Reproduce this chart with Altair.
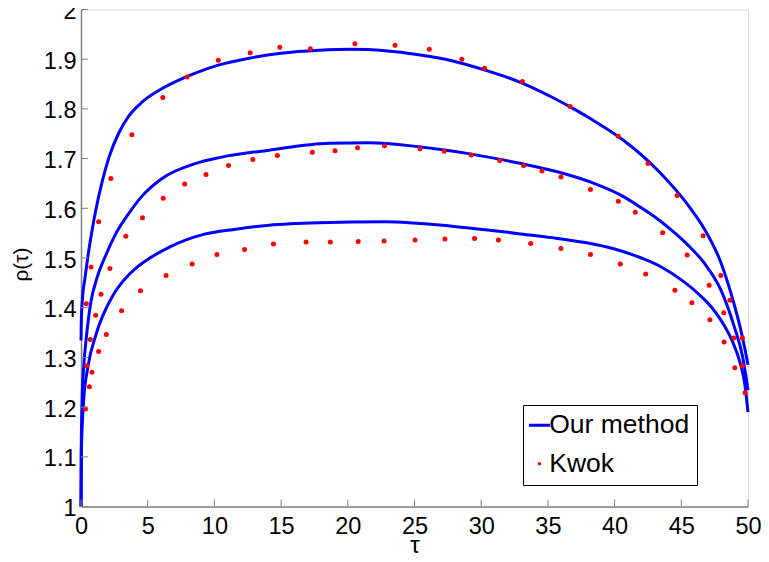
import altair as alt
import pandas as pd

# ---- data ----
top_curve_tau = [0, 0.02, 0.1, 0.3, 0.5, 0.78, 1.1, 1.6, 2.09, 2.84, 3.59, 4.59, 6.08, 7.58, 8.57,
                 10.29, 12.6, 15.0, 17.84, 20.3, 22.8, 25.3, 27.8, 30.3, 32.8, 35.28, 37.27, 38.27,
                 40.76, 43.25, 45.74, 46.74, 47.98, 48.98, 49.4, 49.73, 50]
top_curve_rho = [1.334, 1.37, 1.415, 1.46, 1.50, 1.548, 1.595, 1.655, 1.702, 1.752, 1.786, 1.814, 1.841,
                 1.861, 1.872, 1.888, 1.902, 1.912, 1.918, 1.92, 1.917, 1.909, 1.897, 1.878, 1.855,
                 1.824, 1.795, 1.779, 1.735, 1.676, 1.598, 1.558, 1.49, 1.405, 1.362, 1.322, 1.285]

mid_curve_tau = [0, 0.02, 0.08, 0.2, 0.4, 0.73, 1.2, 1.9, 2.59, 3.59, 4.59, 6.08, 8.57, 10.37, 14.1,
                 18.6, 21.6, 25.3, 29.05, 32.8, 35.78, 38.27, 40.76, 42.0, 43.25, 44.4, 45.5, 46.74,
                 47.98, 48.98, 49.6, 50]
mid_curve_rho = [1.0, 1.12, 1.21, 1.28, 1.34, 1.41, 1.46, 1.508, 1.548, 1.59, 1.625, 1.66, 1.69, 1.702,
                 1.717, 1.731, 1.732, 1.724, 1.71, 1.691, 1.673, 1.652, 1.622, 1.601, 1.578, 1.553,
                 1.526, 1.489, 1.435, 1.361, 1.301, 1.234]

bot_curve_tau = [0, 0.03, 0.2, 0.52, 1.15, 2.4, 3.2, 4.14, 4.89, 6.63, 9.12, 11.6, 14.1, 17.8, 22.8,
                 27.8, 30.3, 32.8, 35.3, 37.8, 40.0, 42.0, 43.5, 45.0, 46.2, 47.3, 48.2, 48.9, 49.4,
                 49.75, 50]
bot_curve_rho = [1.0, 1.113, 1.213, 1.281, 1.348, 1.425, 1.455, 1.48, 1.495, 1.522, 1.547, 1.558,
                 1.566, 1.571, 1.573, 1.564, 1.557, 1.549, 1.541, 1.531, 1.518, 1.5, 1.482, 1.456,
                 1.43, 1.4, 1.365, 1.328, 1.29, 1.248, 1.19]

kwok_top_tau = [0.40, 0.75, 1.32, 2.24, 3.81, 6.13, 7.95, 10.29, 12.68, 14.90, 17.19, 20.53, 23.54,
                26.11, 28.55, 30.25, 33.09, 36.67, 40.28, 42.50, 44.69, 46.64, 47.96, 48.65, 49.58]
kwok_top_rho = [1.408, 1.482, 1.573, 1.660, 1.748, 1.823, 1.864, 1.898, 1.913, 1.924, 1.921, 1.931,
                1.928, 1.920, 1.900, 1.882, 1.855, 1.805, 1.745, 1.690, 1.626, 1.545, 1.465, 1.415,
                1.339]

kwok_mid_tau = [0.43, 0.70, 1.10, 1.50, 2.17, 3.36, 4.61, 6.16, 7.77, 9.37, 11.06, 12.88, 14.72,
                17.34, 19.04, 20.73, 22.75, 25.41, 27.23, 29.25, 31.39, 33.18, 34.56, 35.98, 38.19,
                40.28, 41.55, 43.60, 45.44, 47.09, 48.18, 48.93, 49.58]
kwok_mid_rho = [1.283, 1.336, 1.385, 1.427, 1.479, 1.544, 1.581, 1.620, 1.649, 1.668, 1.686, 1.698,
                1.706, 1.713, 1.716, 1.722, 1.726, 1.720, 1.715, 1.707, 1.696, 1.686, 1.675, 1.663,
                1.638, 1.614, 1.592, 1.551, 1.506, 1.445, 1.390, 1.339, 1.283]

kwok_bot_tau = [0.33, 0.63, 0.82, 1.32, 1.90, 3.04, 4.46, 6.38, 8.33, 10.19, 12.26, 14.43, 16.87,
                18.69, 20.78, 22.72, 25.04, 27.28, 29.50, 31.29, 33.71, 35.98, 38.19, 40.43, 42.33,
                44.52, 45.79, 47.14, 48.21, 49.01, 49.78]
kwok_bot_rho = [1.196, 1.241, 1.270, 1.312, 1.346, 1.394, 1.434, 1.465, 1.488, 1.507, 1.517, 1.528,
                1.532, 1.532, 1.533, 1.534, 1.536, 1.538, 1.539, 1.536, 1.529, 1.519, 1.507, 1.488,
                1.468, 1.435, 1.410, 1.376, 1.331, 1.279, 1.229]

x_ticks = [0, 5, 10, 15, 20, 25, 30, 35, 40, 45, 50]
y_ticks = [1.0, 1.1, 1.2, 1.3, 1.4, 1.5, 1.6, 1.7, 1.8, 1.9, 2.0]
series_names = ["Our method", "Kwok"]
series_colors = ["#0000ff", "#ff0000"]

# ---- tables ----
lines = pd.concat([
    pd.DataFrame({"tau": top_curve_tau, "rho": top_curve_rho, "curve": "top"}),
    pd.DataFrame({"tau": mid_curve_tau, "rho": mid_curve_rho, "curve": "mid"}),
    pd.DataFrame({"tau": bot_curve_tau, "rho": bot_curve_rho, "curve": "bot"}),
])
lines["src"] = series_names[0]

pts = pd.concat([
    pd.DataFrame({"tau": kwok_top_tau, "rho": kwok_top_rho}),
    pd.DataFrame({"tau": kwok_mid_tau, "rho": kwok_mid_rho}),
    pd.DataFrame({"tau": kwok_bot_tau, "rho": kwok_bot_rho}),
])
pts["src"] = series_names[1]

W, H = 667, 497
FONT = "Liberation Sans"
GREY = "#808080"

xscale = alt.Scale(domain=[0, 50], nice=False, zero=False)
yscale = alt.Scale(domain=[1, 2], nice=False, zero=False)
cscale = alt.Scale(domain=series_names, range=series_colors)

is_kwok = "datum.value === 'Kwok'"
legend = alt.Legend(
    title=None, orient="none", legendX=442, legendY=395.5,
    strokeColor="black", fillColor="white", padding=7,
    labelFont=FONT, labelFontSize=26.5, labelColor="black",
    labelOffset={"expr": "-3.5"}, symbolOffset={"expr": "-3.75"},
    rowPadding=11.5,
    symbolType={"expr": f"{is_kwok} ? 'circle' : 'stroke'"},
    symbolSize={"expr": f"{is_kwok} ? 11 : 441"},
    symbolFillColor={"expr": f"{is_kwok} ? '#ff0000' : 'transparent'"},
    symbolStrokeWidth={"expr": f"{is_kwok} ? 0 : 3"},
)

LABEL_SIZE = 23.5
x_axis = alt.Axis(values=x_ticks, format="d", title="τ", ticks=False, grid=False,
                  domainColor=GREY, domainWidth=1.5, labelFont=FONT, labelFontSize=LABEL_SIZE,
                  labelColor="black", labelPadding=8, titleFont=FONT, titleFontSize=24,
                  titleFontWeight="normal", titleColor="black", titleBaseline="alphabetic",
                  titleY=46, labelFlush=False)
y_axis = alt.Axis(values=y_ticks, format=".1~f", title="ρ(τ)", ticks=False, grid=False,
                  domainColor=GREY, domainWidth=1.5, labelFont=FONT, labelFontSize=LABEL_SIZE,
                  labelColor="black", labelPadding=5, labelOffset=2, titleFont=FONT,
                  titleFontSize=21, titleFontWeight="normal", titleColor="black",
                  titleBaseline="middle", titleX=-60, titleY=254.5, labelFlush=False)

line_layer = alt.Chart(lines).mark_line(strokeWidth=3, interpolate="monotone").encode(
    x=alt.X("tau:Q", scale=xscale, axis=x_axis),
    y=alt.Y("rho:Q", scale=yscale, axis=y_axis),
    detail="curve:N",
    color=alt.Color("src:N", scale=cscale, legend=legend),
)

pt_layer = alt.Chart(pts).mark_circle(size=25, opacity=1).encode(
    x=alt.X("tau:Q", scale=xscale),
    y=alt.Y("rho:Q", scale=yscale),
    color=alt.Color("src:N", scale=cscale, legend=None),
)

ytick_layer = alt.Chart(pd.DataFrame({"rho": y_ticks})).mark_rule(color=GREY, strokeWidth=1).encode(
    y=alt.Y("rho:Q", scale=yscale),
    x=alt.value(0), x2=alt.value(7),
)
xtick_layer = alt.Chart(pd.DataFrame({"tau": x_ticks})).mark_rule(color=GREY, strokeWidth=1).encode(
    x=alt.X("tau:Q", scale=xscale),
    y=alt.value(H), y2=alt.value(H - 7),
)

chart = alt.layer(line_layer, pt_layer, ytick_layer, xtick_layer).properties(
    width=W, height=H,
    autosize=alt.AutoSizeParams(type="none"),
    padding={"left": 73, "top": 1.5, "right": 13, "bottom": 48},
).configure_view(stroke=None).configure(background="white")

chart.save("out.html", embed_options={"renderer": "svg", "actions": False})
